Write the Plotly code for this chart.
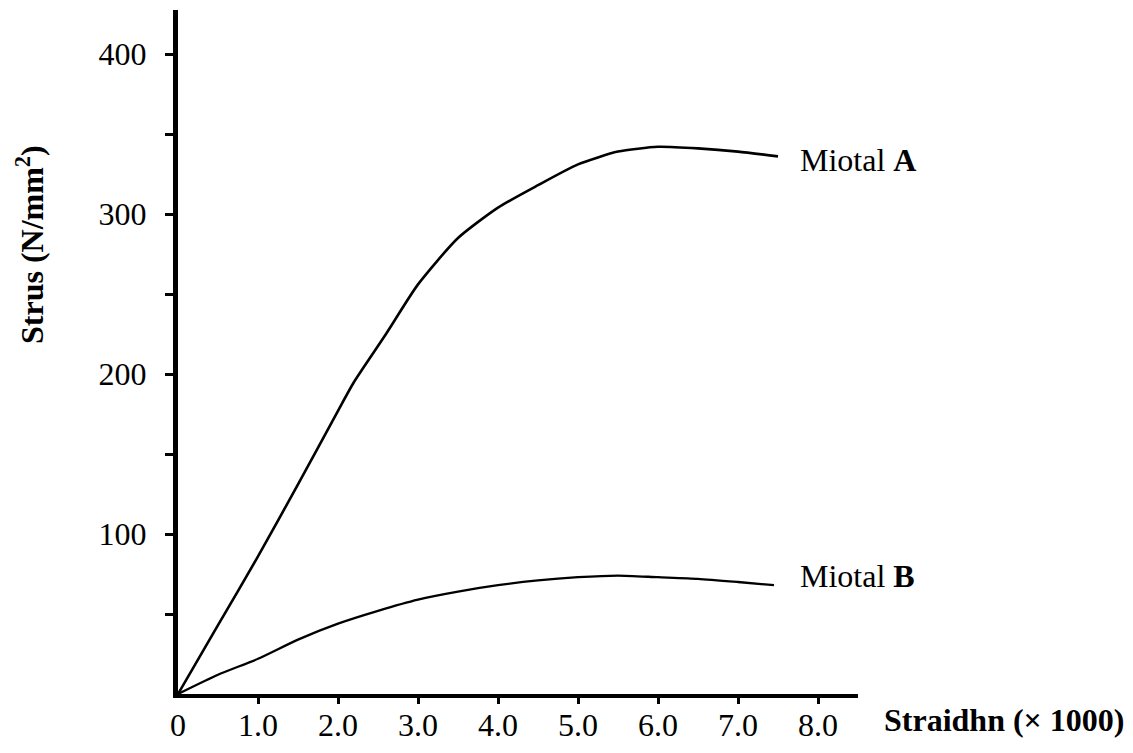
import plotly.graph_objects as go

# Data
strain_a = [0, 0.5, 1.0, 1.5, 2.0, 2.2, 2.6, 3.0, 3.5, 4.0, 4.5, 5.0, 5.5, 6.0, 6.5, 7.0, 7.5]
stress_a = [0, 43, 86, 131, 177, 195, 225, 256, 285, 304, 318, 331, 339, 342, 341, 339, 336]

strain_b = [0, 0.5, 1.0, 1.5, 2.0, 2.5, 3.0, 3.5, 4.0, 4.5, 5.0, 5.5, 6.0, 6.5, 7.0, 7.45]
stress_b = [0, 12, 22, 34, 44, 52, 59, 64, 68, 71, 73, 74, 73, 72, 70, 68]

x_tickvals = [0, 1, 2, 3, 4, 5, 6, 7, 8]
x_ticktext = ["0", "1.0", "2.0", "3.0", "4.0", "5.0", "6.0", "7.0", "8.0"]
x_tickmarks = [1, 2, 3, 4, 5, 6, 7, 8]
y_tickvals = [100, 200, 300, 400]
y_ticktext = ["100", "200", "300", "400"]
y_minorticks = [50, 150, 250, 350]

FONT = "Liberation Serif, Times New Roman, serif"
FS = 32

# page body has an 8px margin; size the figure to the visible viewport
W, H = 1125, 745
L, R, T, B = 170, 850, 2, 686  # plot area edges in figure px

fig = go.Figure()
fig.add_trace(go.Scatter(x=strain_a, y=stress_a, mode="lines",
                         line=dict(color="black", width=2.6, shape="spline", smoothing=0.6),
                         showlegend=False))
fig.add_trace(go.Scatter(x=strain_b, y=stress_b, mode="lines",
                         line=dict(color="black", width=2.3, shape="spline", smoothing=0.6),
                         showlegend=False))

pw, ph = R - L, B - T


def px2paper(x, y):
    return (x - L) / pw, (B - y) / ph


tx, ty = px2paper(1004 - 8, 720 - 8)
yx, yy = px2paper(30 - 8, 245 - 8)

fig.update_layout(
    width=W, height=H,
    margin=dict(l=L, r=W - R, t=T, b=H - B, autoexpand=False),
    paper_bgcolor="white", plot_bgcolor="white",
    font=dict(family=FONT, size=FS, color="black"),
    xaxis=dict(range=[0, 8.5], tickvals=x_tickvals, ticktext=x_ticktext,
               showgrid=False, zeroline=False, showline=True, linecolor="black",
               linewidth=4, ticks="", tickfont=dict(family=FONT, size=FS),
               ticklabelstandoff=0,
               minor=dict(tickvals=x_tickmarks, ticks="outside", ticklen=6,
                          tickwidth=3, tickcolor="black", showgrid=False)),
    yaxis=dict(range=[0, 427.5], tickvals=y_tickvals, ticktext=y_ticktext,
               showgrid=False, zeroline=False, showline=True, linecolor="black",
               linewidth=5, ticks="outside", ticklen=8, tickwidth=3,
               tickcolor="black", tickfont=dict(family=FONT, size=FS),
               ticklabelstandoff=12,
               minor=dict(tickvals=y_minorticks, ticks="outside", ticklen=8,
                          tickwidth=3, tickcolor="black", showgrid=False)),
    annotations=[
        dict(text="Miotal <b>A</b>", x=7.75, y=334, xref="x", yref="y",
             xanchor="left", yanchor="middle", showarrow=False,
             font=dict(family=FONT, size=FS)),
        dict(text="Miotal <b>B</b>", x=7.75, y=74, xref="x", yref="y",
             xanchor="left", yanchor="middle", showarrow=False,
             font=dict(family=FONT, size=FS)),
        dict(text="<b>Straidhn (× 1000)</b>", x=tx, y=ty, xref="paper", yref="paper",
             xanchor="center", yanchor="middle", showarrow=False,
             font=dict(family=FONT, size=FS)),
        dict(text="<b>Strus (N/mm<sup>2</sup>)</b>", x=yx, y=yy, xref="paper", yref="paper",
             xanchor="center", yanchor="middle", textangle=-90, showarrow=False,
             borderpad=0, font=dict(family=FONT, size=FS)),
    ],
)

fig.write_html("out.html")
